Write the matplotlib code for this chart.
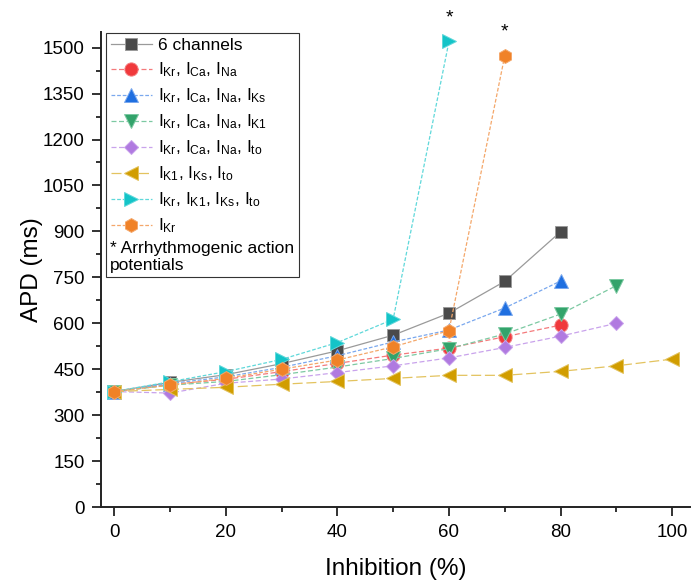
import matplotlib
matplotlib.use("Agg")
import matplotlib.pyplot as plt
from matplotlib.patches import Rectangle

plt.rcParams['font.family'] = ['Liberation Sans', 'DejaVu Sans']
plt.rcParams['mathtext.fontset'] = 'custom'
plt.rcParams['mathtext.rm'] = 'Liberation Sans'
plt.rcParams['mathtext.it'] = 'Liberation Sans'
plt.rcParams['mathtext.bf'] = 'Liberation Sans:bold'

# APD (ms) vs % inhibition
inhib = [0, 10, 20, 30, 40, 50, 60, 70, 80, 90, 100]

apd_6ch = [377, 407, 432, 468, 510, 561, 633, 737, 899]
apd_kr_ca_na = [377, 400, 417, 442, 469, 496, 519, 556, 594]
apd_kr_ca_na_ks = [377, 403, 425, 456, 494, 539, 578, 650, 738]
apd_kr_ca_na_k1 = [377, 398, 410, 432, 457, 485, 517, 565, 630, 723]
apd_kr_ca_na_to = [377, 372, 404, 418, 439, 461, 487, 521, 558, 600]
apd_k1_ks_to = [377, 384, 391, 401, 410, 420, 430, 430, 443, 461, 483]
apd_kr_k1_ks_to = [377, 409, 442, 482, 537, 613, 1520]
apd_kr = [377, 398, 420, 450, 480, 523, 576, 1474]

labels = [
    '6 channels',
    r'$I_{Kr}$, $I_{Ca}$, $I_{Na}$',
    r'$I_{Kr}$, $I_{Ca}$, $I_{Na}$, $I_{Ks}$',
    r'$I_{Kr}$, $I_{Ca}$, $I_{Na}$, $I_{K1}$',
    r'$I_{Kr}$, $I_{Ca}$, $I_{Na}$, $I_{to}$',
    r'$I_{K1}$, $I_{Ks}$, $I_{to}$',
    r'$I_{Kr}$, $I_{K1}$, $I_{Ks}$, $I_{to}$',
    r'$I_{Kr}$',
]
series = [apd_6ch, apd_kr_ca_na, apd_kr_ca_na_ks, apd_kr_ca_na_k1,
          apd_kr_ca_na_to, apd_k1_ks_to, apd_kr_k1_ks_to, apd_kr]

# marker, size, marker colour, line colour, dash
styles = [
    ('s', 8.0, '#4a4a4a', '#9a9a9a', '-'),
    ('o', 9.5, '#f0393c', '#f47a7c', (0, (4, 2))),
    ('^', 10.0, '#1f6fe0', '#7aa8ee', (0, (3, 1.5))),
    ('v', 10.0, '#33a36b', '#7cc9a2', (0, (4, 2))),
    ('D', 7.0, '#b07ae0', '#c9a3ec', (0, (4, 2))),
    ('<', 10.0, '#d19d00', '#e3c35f', (0, (8, 3))),
    ('>', 10.0, '#14c4c8', '#5fd8da', (0, (3, 1.5))),
    ('h', 10.0, '#f08228', '#f4a76a', (0, (3, 1.5))),
]

fig = plt.figure(figsize=(6.91, 5.84), dpi=100)
ax = fig.add_axes([0.1457, 0.1318, 0.853, 0.8134])

handles = []
for vals, lab, (mk, ms, mc, lc, ls) in zip(series, labels, styles):
    h, = ax.plot(inhib[:len(vals)], vals, color=lc, lw=0.9, linestyle=ls,
                 marker=mk, markersize=ms, markerfacecolor=mc,
                 markeredgecolor=lc, markeredgewidth=0.7, label=lab,
                 clip_on=False)
    handles.append(h)

# asterisks above the arrhythmogenic points
ax.annotate('*', xy=(inhib[len(apd_kr_k1_ks_to) - 1], apd_kr_k1_ks_to[-1]),
            xytext=(0, 17), textcoords='offset points', ha='center',
            va='center', fontsize=14, annotation_clip=False)
ax.annotate('*', xy=(inhib[len(apd_kr) - 1], apd_kr[-1]),
            xytext=(0, 17), textcoords='offset points', ha='center',
            va='center', fontsize=14, annotation_clip=False)

ax.set_xlim(-2.4, 103.2)
ax.set_ylim(0, 1551)
ax.set_xticks(range(0, 101, 20))
ax.set_xticks(range(0, 101, 10), minor=True)
ax.set_yticks(range(0, 1501, 150))
ax.set_yticks(range(0, 1501, 75), minor=True)

for side in ['top', 'right']:
    ax.spines[side].set_visible(False)
for side in ['left', 'bottom']:
    ax.spines[side].set_linewidth(1.4)
    ax.spines[side].set_color('#222222')

ax.tick_params(which='major', length=6.5, width=1.3, labelsize=13.5,
               color='#222222')
ax.tick_params(which='minor', length=3.3, width=1.3, color='#222222')
ax.tick_params(axis='y', pad=5)
ax.tick_params(axis='x', pad=6)

ax.set_xlabel('Inhibition (%)', fontsize=17.5, labelpad=12)
ax.set_ylabel('APD (ms)', fontsize=17.5, labelpad=0)

leg = ax.legend(handles=handles, loc='upper left',
                bbox_to_anchor=(0.0095, 0.996), frameon=False,
                fontsize=12.5, handlelength=2.4, handletextpad=0.35,
                labelspacing=0.42, borderpad=0.25, borderaxespad=0)

ax.text(0.0158, 0.527, '* Arrhythmogenic action\npotentials',
        transform=ax.transAxes, fontsize=12.5, va='center', ha='left',
        linespacing=1.15)
ax.add_patch(Rectangle((0.009, 0.484), 0.3275, 0.514, transform=ax.transAxes,
                       fill=False, edgecolor='#333333', lw=0.8,
                       clip_on=False))

fig.savefig('out.png', dpi=100)
